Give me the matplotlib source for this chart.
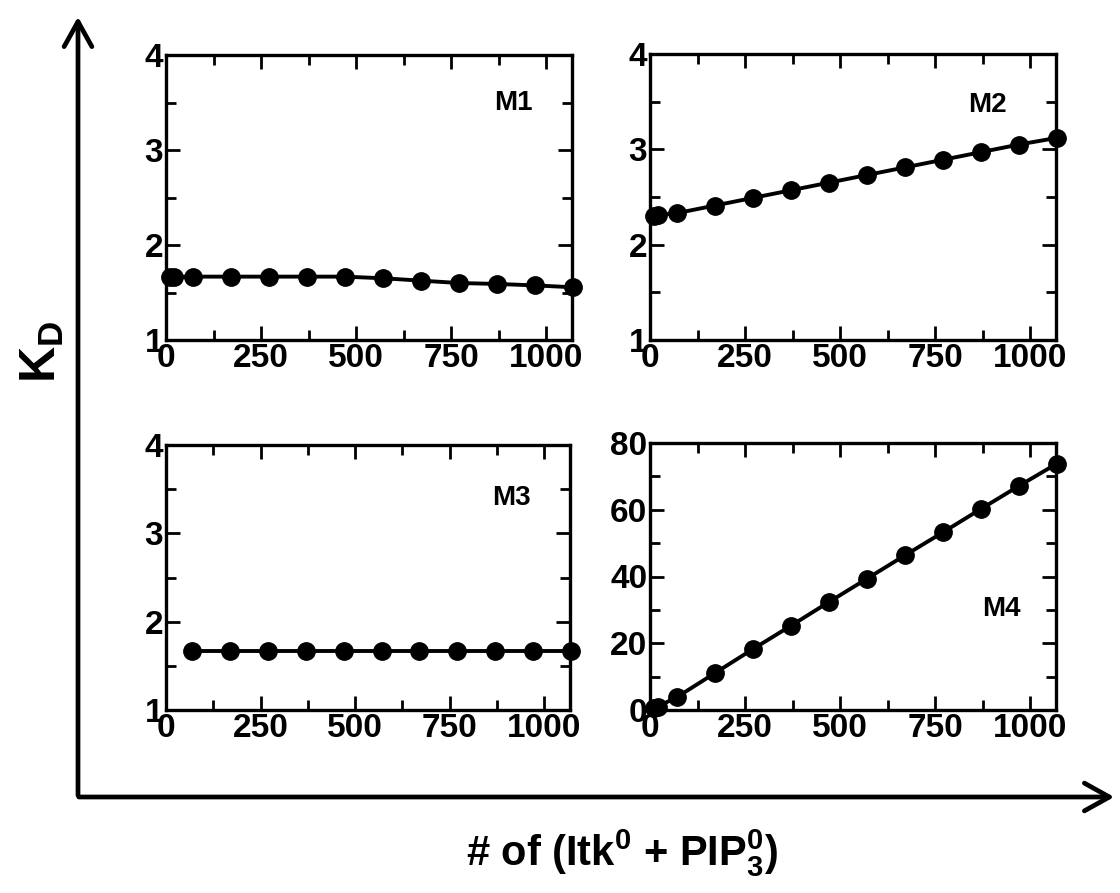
import numpy as np
import matplotlib
matplotlib.use('Agg')
import matplotlib.pyplot as plt
from matplotlib.patches import FancyArrowPatch
from matplotlib.ticker import MultipleLocator

plt.rcParams['font.family'] = ['Liberation Sans', 'DejaVu Sans']
plt.rcParams['font.weight'] = 'bold'
plt.rcParams['mathtext.fontset'] = 'custom'
plt.rcParams['mathtext.rm'] = 'Liberation Sans:bold'
plt.rcParams['mathtext.bf'] = 'Liberation Sans:bold'
plt.rcParams['mathtext.it'] = 'Liberation Sans:bold'

# number of (Itk0 + PIP3_0) molecules
n_total = [10, 20, 70, 170, 270, 370, 470, 570, 670, 770, 870, 970, 1070]
n_total_m3 = [70, 170, 270, 370, 470, 570, 670, 770, 870, 970, 1070]

# dissociation constants for each model
kd_m1 = [1.667, 1.667, 1.667, 1.667, 1.667, 1.667, 1.667, 1.65, 1.625, 1.60, 1.59, 1.575, 1.555]
kd_m2 = [2.30, 2.31, 2.33, 2.41, 2.49, 2.57, 2.65, 2.73, 2.81, 2.89, 2.97, 3.05, 3.12]
kd_m3 = [1.667, 1.667, 1.667, 1.667, 1.667, 1.667, 1.667, 1.667, 1.667, 1.667, 1.667]
kd_m4 = [0.5, 1.0, 3.8, 11.0, 18.2, 25.2, 32.3, 39.3, 46.3, 53.2, 60.2, 67.1, 73.8]

xticks = [0, 250, 500, 750, 1000]
small_ticks = [1, 2, 3, 4]
m4_ticks = [0, 20, 40, 60, 80]


def style_axis(ax, yticks, yminor, ylim):
    ax.set_xlim(0, 1068)
    ax.set_ylim(*ylim)
    ax.set_xticks(xticks)
    ax.set_yticks(yticks)
    ax.xaxis.set_minor_locator(MultipleLocator(125))
    ax.yaxis.set_minor_locator(MultipleLocator(yminor))
    ax.tick_params(which='both', direction='in', top=True, right=True,
                   width=2.0, labelsize=24, pad=2)
    ax.tick_params(which='major', length=10)
    ax.tick_params(which='minor', length=7)
    for s in ax.spines.values():
        s.set_linewidth(2.4)
    for lab in ax.get_xticklabels() + ax.get_yticklabels():
        lab.set_fontweight('bold')


fig = plt.figure(figsize=(11.2, 8.93), dpi=100)
W, H = 1120.0, 893.0

def add_panel(l, t, r, b):
    return fig.add_axes([l / W, 1 - b / H, (r - l) / W, (b - t) / H])

ax1 = add_panel(166, 55, 572, 340)
ax2 = add_panel(650, 54, 1056, 340)
ax3 = add_panel(166, 445, 570, 710)
ax4 = add_panel(650, 443, 1056, 710)

panels = [
    (ax1, n_total, kd_m1, 'M1', small_ticks, 0.5, (1, 4), (0.855, 0.83)),
    (ax2, n_total, kd_m2, 'M2', small_ticks, 0.5, (1, 4), (0.83, 0.82)),
    (ax3, n_total_m3, kd_m3, 'M3', small_ticks, 0.5, (1, 4), (0.855, 0.80)),
    (ax4, n_total, kd_m4, 'M4', m4_ticks, 10, (0, 80), (0.865, 0.38)),
]

for ax, x, y, name, yt, ym, yl, pos in panels:
    style_axis(ax, yt, ym, yl)
    ax.plot(x, y, '-o', color='black', lw=2.8, ms=12.5, clip_on=False, zorder=5)
    ax.text(pos[0], pos[1], name, transform=ax.transAxes, fontsize=20,
            fontweight='bold', ha='center', va='center')

# big outer axes arrows
arr_v = FancyArrowPatch((78 / W, 1 - 798 / H), (78 / W, 1 - 14 / H),
                        transform=fig.transFigure, arrowstyle='->,head_length=0.9,head_width=0.5',
                        mutation_scale=20, lw=3.4, color='black')
arr_h = FancyArrowPatch((76 / W, 1 - 797 / H), (1117 / W, 1 - 797 / H),
                        transform=fig.transFigure, arrowstyle='->,head_length=0.9,head_width=0.5',
                        mutation_scale=20, lw=3.4, color='black')
fig.add_artist(arr_v)
fig.add_artist(arr_h)

fig.text(42 / W, 1 - 352 / H, r'K$_{\mathrm{D}}$', rotation=90, fontsize=36,
         fontweight='bold', ha='center', va='center')
fig.text(622 / W, 1 - 853 / H, r'# of (Itk$^{0}$ + PIP$_{3}^{0}$)', fontsize=30,
         fontweight='bold', ha='center', va='center')

plt.savefig('out.png', dpi=100)
